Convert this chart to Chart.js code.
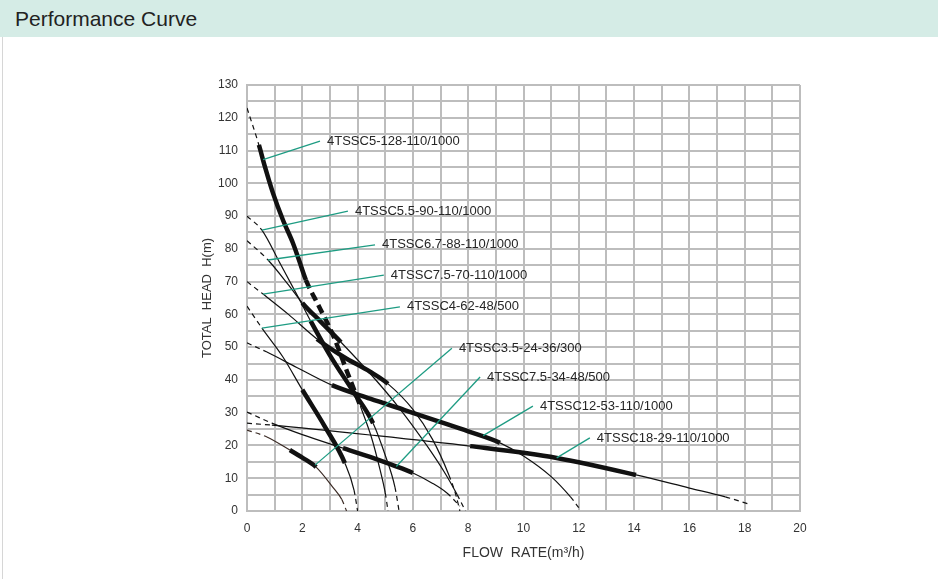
<!DOCTYPE html>
<html>
<head>
<meta charset="utf-8">
<script src="https://cdn.jsdelivr.net/npm/chart.js@4.4.1/dist/chart.umd.min.js"></script>
<style>
  html, body { margin: 0; padding: 0; background: #fff; }
  #page { position: relative; width: 938px; height: 579px; overflow: hidden; }
  #head { height: 37px; padding-left: 15px; background: #d5ece6;
          font: 21px "Liberation Sans", Arial, sans-serif; line-height: 37px; color: #222; }
  #frame { position: absolute; left: 2px; top: 37px; bottom: 0; border-left: 1px solid #d6d6d6; }
  #chart { position: absolute; left: 0; top: 37px; }
</style>
</head>
<body>
<div id="page">
  <div id="head">Performance Curve</div>
  <div id="frame"></div>
  <canvas id="chart" width="938" height="542"></canvas>
</div>
<script>
// --- tick labels ---
const xTicks = [0, 2, 4, 6, 8, 10, 12, 14, 16, 18, 20];
const yTicks = [0, 10, 20, 30, 40, 50, 60, 70, 80, 90, 100, 110, 120, 130];

// --- pump curves: flow Q (m3/h) / head H (m) ---
// duty = heavy part of the curve, solid = part drawn without dashes
const q5_128 = [0, 0.43, 0.65, 0.94, 1.3, 1.66, 1.88, 2.13, 2.6, 3.11, 3.62, 4.1, 4.5, 4.8, 5.0, 5.1];
const h5_128 = [123, 111.7, 105, 97, 88.8, 81.8, 76.6, 70.5, 62.5, 53.7, 42.5, 32, 22.5, 13, 5.5, 0];
const duty5_128 = [0.43, 2.13];
const heavyDash5_128 = [2.13, 4.1];
const solid5_128 = [0.43, 5.0];

const q5_5_90 = [0, 0.54, 1.2, 1.9, 2.3, 3.0, 3.8, 4.56, 5.0, 5.35, 5.5];
const h5_5_90 = [90, 85.7, 75.5, 64.5, 58, 47.5, 37, 26.8, 17, 7.3, 0];
const duty5_5_90 = [2.3, 4.56];
const solid5_5_90 = [0.54, 5.35];

const q6_7_88 = [0, 0.76, 1.5, 2.0, 2.7, 3.4, 4.5, 5.5, 6.5, 7.2, 7.6, 7.9];
const h6_7_88 = [82.5, 76.6, 69, 63.5, 57.5, 51.5, 41.5, 31.5, 20, 11, 5, 0];
const duty6_7_88 = [2.0, 3.4];
const solid6_7_88 = [0.76, 7.6];

const q7_5_70 = [0, 0.58, 1.5, 2.53, 3.5, 4.45, 5.1, 6.0, 6.7, 7.3, 7.55, 7.7];
const h7_5_70 = [70, 66.2, 60, 52.5, 47, 42.5, 38.8, 31, 22, 11, 5, 0];
const duty7_5_70 = [2.53, 5.1];
const solid7_5_70 = [0.58, 7.3];

const q4_62 = [0, 0.54, 1.3, 2.0, 2.8, 3.54, 3.87, 4.0];
const h4_62 = [62.5, 55.8, 47, 37, 26, 14.6, 6.4, 0];
const duty4_62 = [2.0, 3.54];
const solid4_62 = [0.54, 3.87];

const q3_5_24 = [0, 0.72, 1.55, 2.0, 2.5, 3.1, 3.43, 3.6];
const h3_5_24 = [24.7, 22.6, 18.6, 16.3, 13.4, 7.3, 3.5, 0];
const duty3_5_24 = [1.55, 2.5];
const solid3_5_24 = [0.72, 3.43];

const q7_5_34 = [0, 0.9, 2.0, 3.47, 4.45, 5.2, 6.0, 6.7, 7.23, 7.7];
const h7_5_34 = [30.2, 26.8, 23.3, 19.2, 16.5, 14.2, 11.6, 8.5, 5.5, 1.5];
const duty7_5_34 = [3.47, 6.0];
const solid7_5_34 = [0.9, 7.23];

const q12_53 = [0, 0.72, 1.8, 3.07, 4.45, 5.7, 6.98, 8.0, 9.15, 10.0, 11.0, 11.7, 12.0];
const h12_53 = [51.3, 48.5, 43.8, 38.4, 34.3, 30.8, 27.2, 24.3, 20.8, 16.8, 10.5, 4.3, 1];
const duty12_53 = [3.07, 9.15];
const solid12_53 = [0.72, 11.7];

const q18_29 = [0, 0.9, 4.45, 8.07, 11.2, 14.07, 16.0, 17.3, 18.2];
const h18_29 = [26.8, 26.2, 23.2, 19.8, 16.2, 11, 7.0, 4.3, 2];
const duty18_29 = [8.07, 14.07];
const solid18_29 = [0.9, 17.3];

// --- model labels and their leader lines (from curve point to label point) ---
const names = ['4TSSC5-128-110/1000', '4TSSC5.5-90-110/1000', '4TSSC6.7-88-110/1000',
  '4TSSC7.5-70-110/1000', '4TSSC4-62-48/500', '4TSSC3.5-24-36/300',
  '4TSSC7.5-34-48/500', '4TSSC12-53-110/1000', '4TSSC18-29-110/1000'];
const leadQ0 = [0.58, 0.54, 0.76, 0.58, 0.54, 2.46, 5.4, 8.54, 11.2];
const leadH0 = [107.2, 85.7, 76.6, 66.2, 55.8, 14, 13.6, 23.0, 16.2];
const leadQ1 = [2.64, 3.65, 4.63, 4.95, 5.53, 7.41, 8.43, 10.34, 12.4];
const leadH1 = [112.9, 91.5, 81.2, 72, 62.3, 49.7, 40.9, 32, 22.3];

const pumps = [
  { q: q5_128, h: h5_128, duty: duty5_128, solid: solid5_128, heavyDash: heavyDash5_128 },
  { q: q5_5_90, h: h5_5_90, duty: duty5_5_90, solid: solid5_5_90 },
  { q: q6_7_88, h: h6_7_88, duty: duty6_7_88, solid: solid6_7_88 },
  { q: q7_5_70, h: h7_5_70, duty: duty7_5_70, solid: solid7_5_70 },
  { q: q4_62, h: h4_62, duty: duty4_62, solid: solid4_62 },
  { q: q3_5_24, h: h3_5_24, duty: duty3_5_24, solid: solid3_5_24, color: '#3a2a24' },
  { q: q7_5_34, h: h7_5_34, duty: duty7_5_34, solid: solid7_5_34 },
  { q: q12_53, h: h12_53, duty: duty12_53, solid: solid12_53 },
  { q: q18_29, h: h18_29, duty: duty18_29, solid: solid18_29 }
];

const FONT = '"Liberation Sans", Arial, sans-serif';
Chart.defaults.font.family = FONT;

function mid(c) { return (c.p0.parsed.x + c.p1.parsed.x) / 2; }
function within(v, r) { return !!r && v >= r[0] && v <= r[1]; }

const datasets = [];

names.forEach((n, i) => {
  datasets.push({
    data: [{ x: leadQ0[i], y: leadH0[i] }, { x: leadQ1[i], y: leadH1[i] }],
    borderColor: '#1e9c83', borderWidth: 1.3, pointRadius: 0, tension: 0
  });
});

pumps.forEach(p => {
  const heavy = c => within(mid(c), p.duty) || within(mid(c), p.heavyDash);
  datasets.push({
    data: p.q.map((x, i) => ({ x: x, y: p.h[i] })),
    borderColor: p.color || '#111',
    borderWidth: 1.2,
    borderCapStyle: 'butt',
    pointRadius: 0,
    cubicInterpolationMode: 'monotone',
    segment: {
      borderColor: c => heavy(c) ? '#111' : (p.color || '#111'),
      borderWidth: c => heavy(c) ? 4.5 : 1.2,
      borderDash: c => within(mid(c), p.heavyDash) ? [9, 5] : (within(mid(c), p.solid) ? [] : [5, 4])
    }
  });
});

// model names next to the leader ends
const tagPlugin = {
  id: 'tags',
  afterDatasetsDraw(chart) {
    const { ctx, scales: { x, y } } = chart;
    ctx.save();
    ctx.font = '13px ' + FONT;
    ctx.fillStyle = '#262626';
    ctx.textBaseline = 'middle';
    names.forEach((n, i) => {
      ctx.fillText(n, x.getPixelForValue(leadQ1[i]) + 7, y.getPixelForValue(leadH1[i]));
    });
    ctx.restore();
  }
};

const gridColor = '#bdbdbd';

new Chart(document.getElementById('chart'), {
  type: 'line',
  data: { datasets: datasets },
  plugins: [tagPlugin],
  options: {
    responsive: false,
    animation: false,
    devicePixelRatio: 1,
    layout: { padding: { left: 187, top: 48, right: 138, bottom: 8 } },
    plugins: { legend: { display: false }, tooltip: { enabled: false } },
    scales: {
      x: {
        type: 'linear', min: 0, max: 20,
        afterFit: s => { s.height = 60; },
        grid: { color: gridColor, lineWidth: 2, drawTicks: false },
        border: { color: gridColor, width: 2 },
        ticks: {
          stepSize: 1, autoSkip: false, maxRotation: 0, padding: 10,
          color: '#333', font: { size: 12 },
          callback: v => xTicks.includes(v) ? v : ''
        },
        title: { display: true, text: 'FLOW  RATE(m³/h)', color: '#333',
                 font: { size: 14 }, padding: { top: 0, bottom: 9 } }
      },
      y: {
        type: 'linear', min: 0, max: 130,
        afterFit: s => { s.width = 60; },
        grid: { color: gridColor, lineWidth: 2, drawTicks: false },
        border: { color: gridColor, width: 2 },
        ticks: {
          stepSize: 5, autoSkip: false, padding: 9,
          color: '#333', font: { size: 12 },
          callback: v => yTicks.includes(v) ? v : ''
        },
        title: { display: true, text: 'TOTAL  HEAD  H(m)', color: '#333',
                 font: { size: 13 }, padding: { top: 13, bottom: 0 } }
      }
    }
  }
});
</script>
</body>
</html>
